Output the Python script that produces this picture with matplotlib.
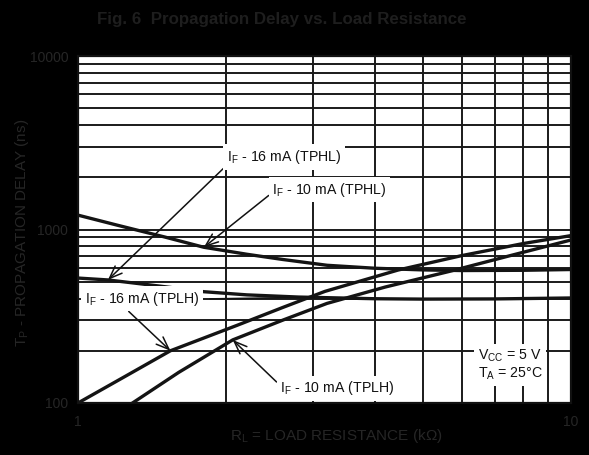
import matplotlib
matplotlib.use('Agg')
import matplotlib.pyplot as plt
from matplotlib.ticker import NullFormatter

plt.rcParams['font.family'] = ['Liberation Sans', 'DejaVu Sans']
plt.rcParams['mathtext.fontset'] = 'custom'
plt.rcParams['mathtext.rm'] = 'Liberation Sans'
plt.rcParams['mathtext.it'] = 'Liberation Sans:italic'

# ── Data (RL in kOhm, delay in ns) ───────────────────────────────────────────
tphl_10_x = [1, 1.2, 1.5, 1.8, 2.2, 2.6, 3.2, 4, 5, 6, 8, 10]
tphl_10_y = [1210, 1060, 905, 790, 720, 672, 622, 598, 585, 580, 582, 588]

tphl_16_x = [1, 1.15, 1.5, 1.8, 2.2, 2.8, 4, 5, 7, 10]
tphl_16_y = [525, 512, 468, 438, 420, 408, 399, 397, 398, 403]

tplh_16_x = [1, 1.25, 1.54, 2.1, 2.6, 3.17, 4.46, 6, 8, 10]
tplh_16_y = [100, 143, 200, 280, 355, 440, 584, 707, 830, 922]

tplh_10_x = [1.2, 1.29, 1.6, 2.06, 2.6, 3.2, 4.2, 5.76, 7.5, 10]
tplh_10_y = [87, 100, 150, 231, 300, 375, 466, 580, 705, 870]

X_TICKS = [1, 10]
Y_TICKS = [100, 1000, 10000]

TXT_GREY = '#262626'
BOX = dict(boxstyle='square,pad=0.25', facecolor='white', edgecolor='none')
ARROW = dict(arrowstyle='->,head_length=0.9,head_width=0.35', color='#111111',
             lw=1.1, shrinkA=0, shrinkB=0)


def main():
    fig = plt.figure(figsize=(5.89, 4.55), dpi=100)
    fig.patch.set_facecolor('black')
    ax = fig.add_axes([0.1324, 0.1143, 0.8370, 0.7626])
    ax.set_facecolor('white')

    ax.set_xscale('log')
    ax.set_yscale('log')
    ax.set_xlim(1, 10)
    ax.set_ylim(100, 10000)

    # grid on major + minor decades
    ax.grid(True, which='both', color='#1a1a1a', lw=1.4)
    ax.set_axisbelow(True)
    for s in ax.spines.values():
        s.set_color('#111111')
        s.set_linewidth(1.6)

    ax.set_xticks(X_TICKS)
    ax.set_xticklabels([str(v) for v in X_TICKS])
    ax.set_yticks(Y_TICKS)
    ax.set_yticklabels([str(v) for v in Y_TICKS])
    ax.xaxis.set_minor_formatter(NullFormatter())
    ax.yaxis.set_minor_formatter(NullFormatter())
    ax.tick_params(which='both', length=0, labelsize=10, colors=TXT_GREY)
    ax.tick_params(axis='x', pad=9)
    ax.tick_params(axis='y', pad=7)

    # ── curves ───────────────────────────────────────────────────────────────
    for xs, ys in [(tphl_10_x, tphl_10_y), (tphl_16_x, tphl_16_y),
                   (tplh_16_x, tplh_16_y), (tplh_10_x, tplh_10_y)]:
        ax.plot(xs, ys, color='#141414', lw=2.4, solid_capstyle='butt', zorder=3)

    # ── callouts ─────────────────────────────────────────────────────────────
    kw = dict(fontsize=10.2, color='#111111', va='center', ha='left',
              textcoords='axes fraction', bbox=BOX, zorder=5)

    ax.annotate('I$_\\mathrm{F}$ - 16 mA (TPHL)', xy=(tphl_16_x[1], tphl_16_y[1]),
                xytext=(0.302, 0.709),
                arrowprops=dict(ARROW, relpos=(0.0, 0.05)), **kw)
    ax.annotate('I$_\\mathrm{F}$ - 10 mA (TPHL)', xy=(tphl_10_x[3], tphl_10_y[3]),
                xytext=(0.394, 0.614),
                arrowprops=dict(ARROW, relpos=(0.0, 0.35)), **kw)
    ax.annotate('I$_\\mathrm{F}$ - 16 mA (TPLH)', xy=(tplh_16_x[2], tplh_16_y[2]),
                xytext=(0.014, 0.300),
                arrowprops=dict(ARROW, relpos=(0.35, 0.0)), **kw)
    ax.annotate('', xy=(0.485, 0.305), xycoords='axes fraction',
                xytext=(0.262, 0.300), textcoords='axes fraction',
                arrowprops=dict(arrowstyle='-', color='#111111', lw=1.1))
    ax.annotate('I$_\\mathrm{F}$ - 10 mA (TPLH)', xy=(tplh_10_x[3], tplh_10_y[3]),
                xytext=(0.410, 0.043),
                arrowprops=dict(ARROW, relpos=(0.0, 0.65)), **kw)

    ax.text(0.811, 0.110, 'V$_\\mathrm{CC}$ = 5 V\nT$_\\mathrm{A}$ = 25°C',
            transform=ax.transAxes, fontsize=10.2, color='#111111',
            va='center', ha='left', linespacing=1.2, bbox=BOX, zorder=5)

    # ── labels ───────────────────────────────────────────────────────────────
    fig.text(0.479, 0.958, 'Fig. 6  Propagation Delay vs. Load Resistance',
             ha='center', va='center', fontsize=12.2, fontweight='bold',
             color='#1e1e1e')
    ax.set_xlabel('R$_\\mathrm{L}$ = LOAD RESISTANCE (k\u03a9)', fontsize=11,
                  color=TXT_GREY)
    ax.xaxis.set_label_coords(0.524, -0.07)
    ax.set_ylabel('T$_\\mathrm{P}$ - PROPAGATION DELAY (ns)', fontsize=11,
                  color=TXT_GREY)
    ax.yaxis.set_label_coords(-0.095, 0.49)

    fig.savefig('out.png', dpi=100, facecolor=fig.get_facecolor())
    plt.close(fig)


if __name__ == '__main__':
    main()
